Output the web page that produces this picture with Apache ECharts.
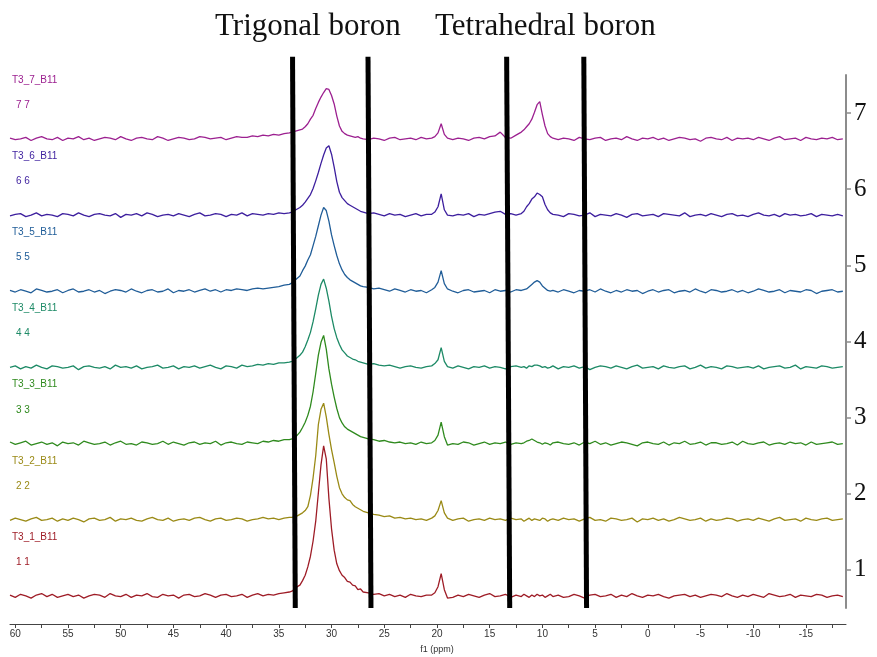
<!DOCTYPE html>
<html>
<head>
<meta charset="utf-8">
<script src="https://cdn.jsdelivr.net/npm/echarts@6/dist/echarts.min.js"></script>
<style>
html,body{margin:0;padding:0;background:#ffffff;}
#chart{width:877px;height:657px;}
</style>
</head>
<body>
<div id="chart"></div>
<script>
// 11B NMR spectra, chemical shift axis (ppm), shared sampling points
const ppm = [
  60.5,60,59.5,59,58.5,58,57.5,57,56.5,56,55.5,55,54.5,54,53.5,53,52.5,52,51.5,51,50.5,50,49.5,49,48.5,48,47.5,47,46.5,46,45.5,45,44.5,44,43.5,43,42.5,42,41.5,41,40.5,40,39.5,39,38.5,38,37.5,37,36.5,36,35.5,35,34.5,34,
  33.75,33.5,33.25,33,32.75,32.5,32.25,32,31.75,31.5,31.25,31,30.75,30.5,30.25,30,29.75,29.5,29.25,29,28.75,28.5,28.25,28,27.75,27.5,27.25,27,
  26.5,26,25.5,25,24.5,24,23.5,23,22.5,22,21.5,21,
  20.5,20.2,19.9,19.6,19.3,19.0,
  18.5,18,17.5,17,16.5,16,15.5,15,14.5,
  14,13.5,13,12.5,
  12,11.75,11.5,11.25,11,10.75,10.5,10.25,10,9.75,9.5,9.25,9,
  8.5,8,7.5,7,6.5,6,5.5,5,4.5,4,3.5,3,2.5,2,1.5,1,0.5,0,-0.5,-1,-1.5,-2,-2.5,-3,-3.5,-4,-4.5,-5,-5.5,-6,-6.5,-7,-7.5,-8,-8.5,-9,-9.5,-10,-10.5,-11,-11.5,-12,-12.5,-13,-13.5,-14,-14.5,-15,-15.5,-16,-16.5,-17,-17.5,-18,-18.5
];

// Intensities (arbitrary units, 100 = one stacking step)
const spectrum1 = [
  1,-2,2,0,-3,1,3,-1,2,-2,0,2,-1,1,-3,0,2,1,-2,3,0,-1,2,-2,1,0,3,-1,-2,2,0,1,-3,1,2,-1,0,3,1,-2,1,2,-1,0,2,-2,1,3,0,2,1,3,4,5,
  6,9,12,14,20,27,38,52,72,98,135,172,197,180,128,88,60,42,33,27,24,19,18,14,13,8,9,5,
  4,2,3,0,2,-1,1,-2,2,0,-1,1,
  1,4,12,29,8,-3,
  -2,1,-1,2,0,-2,1,3,-1,
  0,2,-2,1,
  -1,2,0,-2,1,-1,2,0,1,-2,0,2,-1,
  1,-2,-1,2,0,-3,1,2,-1,0,2,-2,1,-1,3,0,-2,1,0,2,-1,-3,0,1,2,-1,1,-2,0,2,1,-1,3,0,-2,1,-1,2,0,-2,3,1,-1,0,2,-2,1,0,-1,2,1,-2,0,1,-1
];
const spectrum2 = [
  -1,2,0,-2,1,3,-1,0,2,-2,1,-1,2,0,-3,1,2,-1,0,3,-2,1,0,2,-1,-2,1,3,0,-1,2,-2,0,1,-1,2,3,0,-2,1,2,-1,0,2,1,-2,0,1,3,1,2,0,2,3,
  3,4,5,7,9,12,17,32,55,84,125,145,153,135,112,92,75,57,42,34,29,26,25,20,17,15,13,11,
  9,7,6,4,5,2,3,1,2,0,1,-1,
  2,5,12,25,9,2,
  -1,1,2,-2,0,1,-1,2,0,
  1,-1,2,0,
  1,-2,0,2,-1,1,0,-1,2,1,-2,0,1,
  -1,2,0,1,-2,1,3,-1,0,-2,2,1,-1,0,2,-3,1,0,2,-1,1,-2,0,3,1,-1,0,2,-2,1,-1,0,2,1,-2,0,1,-1,2,0,-2,1,3,-1,0,1,-2,2,0,-1,1,2,-1,0,1
];
const spectrum3 = [
  2,-1,1,3,-2,0,2,-1,1,-3,2,0,1,-2,3,1,-1,0,2,-2,1,3,-1,0,-2,2,1,-1,0,3,-1,2,0,-2,1,2,-1,1,0,3,-2,1,2,0,-1,2,1,0,3,2,4,3,5,5,
  6,8,11,15,21,28,37,49,68,92,116,133,142,124,98,78,61,46,34,27,22,19,17,15,13,11,9,8,
  6,5,3,4,2,1,2,0,1,-1,2,0,
  1,4,11,28,9,-2,
  0,-1,2,1,-2,0,2,-1,1,
  0,2,-1,1,
  0,1,3,4,6,4,2,1,-1,1,0,-2,1,
  2,0,-1,1,-2,2,0,3,-1,1,-2,0,2,1,-1,-3,1,2,0,-1,2,-2,1,0,3,-1,0,2,-2,1,1,-1,0,2,-2,3,0,-1,1,2,-2,0,1,-1,2,0,1,-2,2,-1,0,1,2,-1,0
];
const spectrum4 = [
  0,2,-2,1,-1,3,0,-2,2,1,-1,0,2,-3,1,2,0,-1,1,-2,3,0,1,-1,2,-2,0,1,3,-1,0,2,-2,1,0,2,-1,1,3,0,-2,2,1,-1,3,1,2,4,3,5,4,6,6,7,
  8,10,13,16,20,27,36,46,60,77,95,109,116,104,87,67,51,39,30,23,19,15,13,11,10,8,7,6,
  4,5,3,2,3,1,-1,1,2,0,-1,1,
  2,5,10,26,8,1,
  -1,2,0,-2,1,0,2,-1,1,
  0,-2,1,2,
  0,1,-1,2,1,3,3,2,0,1,-1,0,2,
  -2,1,0,2,-1,1,-3,0,2,1,-1,2,0,-2,1,3,-1,0,1,-2,2,0,-1,1,2,-2,0,3,-1,1,0,-2,2,1,-1,0,1,-1,2,-2,0,1,2,-1,0,3,-2,1,0,-1,2,1,-1,0,1
];
const spectrum5 = [
  1,-1,2,0,-2,3,1,-1,0,2,-2,1,3,-1,0,2,-1,1,-3,0,2,1,-1,3,0,-2,1,2,-1,0,3,-2,1,0,2,-1,1,3,0,2,-1,2,1,3,2,1,3,4,3,4,5,6,8,9,
  11,14,17,20,27,33,41,48,60,72,86,100,110,106,92,74,60,47,36,28,22,18,15,13,11,9,7,6,
  5,3,4,2,0,3,1,-1,2,0,1,-2,
  2,5,12,27,10,3,
  0,-2,1,2,-1,0,1,-2,2,
  0,1,-1,2,
  1,2,3,6,9,12,14,12,7,4,1,0,1,
  -1,2,0,-2,1,0,2,-1,3,0,-2,1,-1,2,0,1,-3,0,2,-1,1,2,-2,0,1,-1,3,0,-2,2,1,-1,0,2,-1,1,-2,0,3,1,-1,0,2,-2,1,0,-1,2,1,-3,0,1,2,-1,0
];
const spectrum6 = [
  -1,1,2,-2,0,3,-1,1,0,-2,2,1,-1,3,0,-2,1,2,0,-1,2,-3,1,0,2,-1,3,1,-2,0,1,-1,2,0,-2,1,3,-1,0,2,1,-2,1,0,3,-1,2,1,0,2,1,3,2,3,
  4,6,8,10,13,17,22,27,35,45,56,68,79,88,91,80,63,44,30,23,19,15,13,11,9,7,5,4,
  2,3,1,-1,2,0,1,-2,0,2,-1,1,
  1,4,11,28,7,0,
  -1,1,0,2,-2,1,0,2,4,
  5,1,2,0,
  2,5,11,15,21,24,29,27,24,14,7,3,1,
  0,-2,2,1,-1,0,3,-2,1,0,-1,2,0,-3,1,2,-1,0,1,-2,2,1,0,-1,3,-2,0,1,-1,2,0,-2,1,2,-1,0,-2,1,3,0,-1,1,-2,2,0,1,-1,0,2,-2,1,0,-1,1,-1
];
const spectrum7 = [
  1,-1,0,2,-2,1,3,0,-1,2,-2,1,0,3,-1,1,-2,0,2,1,-1,3,0,-2,1,2,0,-1,3,1,-2,0,2,1,-1,0,3,2,0,1,2,-1,1,3,2,2,4,3,5,4,6,5,7,8,
  9,10,11,12,13,16,20,26,31,40,48,55,61,66,65,57,46,30,17,10,7,5,4,3,2,3,1,0,
  -1,1,0,-2,1,2,-1,0,1,-1,2,0,
  1,3,8,20,6,1,
  -1,1,0,-2,1,2,0,3,4,
  9,2,1,5,
  9,12,16,20,26,35,45,49,32,17,7,3,1,
  -1,1,0,-2,2,0,-1,1,2,-2,0,1,-1,3,0,-2,1,0,2,-1,1,-2,0,2,1,-1,0,-3,1,2,0,-1,2,-2,1,0,1,-1,2,0,-2,1,3,-1,0,1,-2,2,0,-1,1,0,2,-1,0
];

const spectra = [spectrum1, spectrum2, spectrum3, spectrum4, spectrum5, spectrum6, spectrum7];
const sampleNames = ['T3_1_B11','T3_2_B11','T3_3_B11','T3_4_B11','T3_5_B11','T3_6_B11','T3_7_B11'];
const sampleTags = ['1 1','2 2','3 3','4 4','5 5','6 6','7 7'];
const stackBaselines = [0.66, 1.66, 2.66, 3.66, 4.66, 5.66, 6.66];
const intensityUnit = 0.01;

const yTicks = [1, 2, 3, 4, 5, 6, 7];
const xTicks = [60, 55, 50, 45, 40, 35, 30, 25, 20, 15, 10, 5, 0, -5, -10, -15];
const xMinorTicks = [57.5, 52.5, 47.5, 42.5, 37.5, 32.5, 27.5, 22.5, 17.5, 12.5, 7.5, 2.5, -2.5, -7.5, -12.5, -17.5];

// Region boundaries in ppm: [upper end, lower end]
const regionBounds = [[33.70, 33.44], [26.54, 26.26], [13.39, 13.10], [6.07, 5.81]];
const regionTitles = ['Trigonal boron', 'Tetrahedral boron'];

const colors = ['#9e1c26', '#9a8a16', '#2f8a1e', '#1d8a66', '#205d98', '#3d1f9e', '#9c2090'];

const chart = echarts.init(document.getElementById('chart'), null, {renderer: 'canvas'});

const series = [];
spectra.forEach((vals, k) => {
  if (vals.length !== ppm.length) throw new Error(sampleNames[k] + ' length ' + vals.length);
  series.push({
    name: sampleNames[k],
    type: 'line',
    data: ppm.map((p, i) => [p, stackBaselines[k] + vals[i] * intensityUnit]),
    showSymbol: false,
    symbol: 'none',
    lineStyle: {color: colors[k], width: 1.3},
    itemStyle: {color: colors[k]},
    z: 2,
    silent: true,
    animation: false
  });
});
regionBounds.forEach((b) => {
  series.push({
    type: 'line',
    data: [[b[0], 7.74], [b[1], 0.5]],
    showSymbol: false,
    symbol: 'none',
    clip: false,
    lineStyle: {color: '#000000', width: 5},
    z: 5,
    silent: true,
    animation: false
  });
});

const xTickMarks = xTicks.concat(xMinorTicks).sort((a, b) => b - a);

chart.setOption({
  backgroundColor: '#ffffff',
  animation: false,
  grid: {left: 10, right: 31, top: 75, bottom: 49, containLabel: false},
  xAxis: {
    type: 'value',
    min: -18.8,
    max: 60.5,
    inverse: true,
    offset: 16,
    axisLine: {show: true, onZero: false, lineStyle: {color: '#444444', width: 1}},
    axisTick: {show: true, customValues: xTickMarks, length: 4, lineStyle: {color: '#444444', width: 1}},
    axisLabel: {customValues: xTicks, color: '#333333', fontSize: 10, fontFamily: 'Liberation Sans', margin: 5},
    splitLine: {show: false}
  },
  yAxis: {
    type: 'value',
    position: 'right',
    min: 0.5,
    max: 7.5,
    axisLine: {show: true, onZero: false, lineStyle: {color: '#8c8c8c', width: 2}},
    axisTick: {show: true, customValues: yTicks, length: 5, lineStyle: {color: '#8c8c8c', width: 1.5}},
    axisLabel: {customValues: yTicks, color: '#111111', fontSize: 25, fontFamily: 'Liberation Serif', margin: 8},
    splitLine: {show: false}
  },
  series: series
});

// Text annotations placed through the axis scales
const graphics = [];
spectra.forEach((vals, k) => {
  const yName = chart.convertToPixel({yAxisIndex: 0}, stackBaselines[k] + 0.76);
  const yTag = chart.convertToPixel({yAxisIndex: 0}, stackBaselines[k] + 0.43);
  graphics.push({
    type: 'text', left: 12, top: yName - 6, silent: true,
    style: {text: sampleNames[k], fill: colors[k], font: '10px "Liberation Sans"'}
  });
  graphics.push({
    type: 'text', left: 16, top: yTag - 6, silent: true,
    style: {text: sampleTags[k], fill: colors[k], font: '10px "Liberation Sans"'}
  });
});
const xName = chart.convertToPixel({xAxisIndex: 0}, 20);
graphics.push({
  type: 'text', x: xName, y: 650, silent: true,
  style: {text: 'f1 (ppm)', fill: '#333333', font: '9px "Liberation Sans"', textAlign: 'center', textVerticalAlign: 'middle'}
});
graphics.push({
  type: 'text', x: 215, y: 27, silent: true,
  style: {text: regionTitles[0], fill: '#111111', font: '31px "Liberation Serif"', textAlign: 'left', textVerticalAlign: 'middle'}
});
graphics.push({
  type: 'text', x: 435, y: 27, silent: true,
  style: {text: regionTitles[1], fill: '#111111', font: '31px "Liberation Serif"', textAlign: 'left', textVerticalAlign: 'middle'}
});
chart.setOption({graphic: graphics});
</script>
</body>
</html>
